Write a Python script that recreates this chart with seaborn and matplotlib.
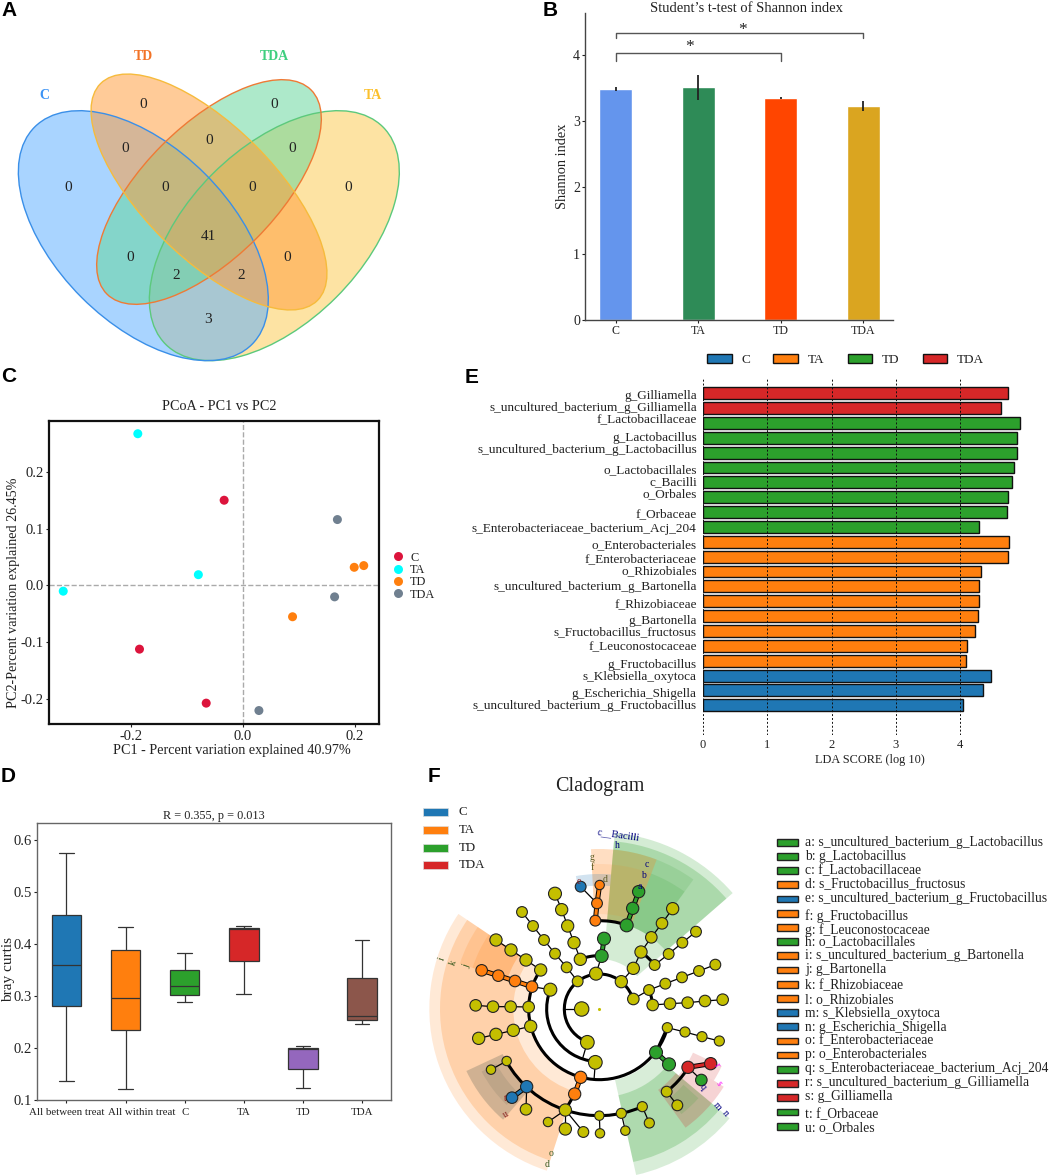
import numpy as np
import pandas as pd
import matplotlib
matplotlib.use('Agg')
import matplotlib.pyplot as plt
import seaborn as sns
from matplotlib.patches import Ellipse, Wedge, Arc, Rectangle, Patch
from matplotlib.transforms import ScaledTranslation

W, H = 1052, 1175
sns.set_theme(style='white')
plt.rcParams['font.family'] = ['Liberation Serif', 'DejaVu Serif']
plt.rcParams['text.color'] = '#222222'
plt.rcParams['axes.labelcolor'] = '#222222'
plt.rcParams['xtick.color'] = '#222222'
plt.rcParams['ytick.color'] = '#222222'
plt.rcParams['axes.unicode_minus'] = False

BLUE, ORANGE, GREEN, RED = '#1f77b4', '#ff7f0e', '#2ca02c', '#d62728'
OLIVE = '#c4bf00'
SHADE = '#6f6f60'

# B: Shannon index
shannon_groups = ['C', 'TA', 'TD', 'TDA']
shannon_mean = [3.49, 3.51, 3.35, 3.23]
shannon_err = [0.03, 0.19, 0.02, 0.08]
shannon_colors = ['#6495ed', '#2e8b57', '#ff4500', '#daa520']

# C: PCoA
pcoa_group = ['C', 'C', 'C', 'TA', 'TA', 'TA', 'TD', 'TD', 'TD', 'TDA', 'TDA', 'TDA']
pc1 = [-0.033, -0.184, -0.065, -0.187, -0.079, -0.320, 0.199, 0.216, 0.089, 0.169, 0.164, 0.029]
pc2 = [0.150, -0.112, -0.207, 0.267, 0.019, -0.010, 0.032, 0.035, -0.055, 0.116, -0.020, -0.220]
pcoa_colors = ['#dc143c', '#00ffff', '#ff7f0e', '#708090']

# D: bray curtis, five numbers per box (low, q1, median, q3, high)
box_names = ['All between treat', 'All within treat', 'C', 'TA', 'TD', 'TDA']
box_between = [0.137, 0.281, 0.360, 0.457, 0.576]
box_within = [0.122, 0.235, 0.296, 0.388, 0.434]
box_c = [0.289, 0.303, 0.319, 0.351, 0.383]
box_ta = [0.304, 0.367, 0.430, 0.432, 0.435]
box_td = [0.123, 0.160, 0.198, 0.201, 0.204]
box_tda = [0.247, 0.254, 0.262, 0.334, 0.408]
box_colors = ['#1f77b4', '#ff7f0e', '#2ca02c', '#d62728', '#9467bd', '#8c564b']

# E: LDA scores
taxa = ['g_Gilliamella', 's_uncultured_bacterium_g_Gilliamella', 'f_Lactobacillaceae',
        'g_Lactobacillus', 's_uncultured_bacterium_g_Lactobacillus', 'o_Lactobacillales',
        'c_Bacilli', 'o_Orbales', 'f_Orbaceae', 's_Enterobacteriaceae_bacterium_Acj_204',
        'o_Enterobacteriales', 'f_Enterobacteriaceae', 'o_Rhizobiales',
        's_uncultured_bacterium_g_Bartonella', 'f_Rhizobiaceae', 'g_Bartonella',
        's_Fructobacillus_fructosus', 'f_Leuconostocaceae', 'g_Fructobacillus',
        's_Klebsiella_oxytoca', 'g_Escherichia_Shigella', 's_uncultured_bacterium_g_Fructobacillus']
lda_score = [4.74, 4.63, 4.94, 4.89, 4.885, 4.84, 4.815, 4.745, 4.735, 4.295,
             4.76, 4.75, 4.32, 4.295, 4.29, 4.285, 4.23, 4.11, 4.10, 4.475, 4.35, 4.04]
lda_group = ['TDA'] * 2 + ['TD'] * 8 + ['TA'] * 9 + ['C'] * 3
# the labels in the figure do not sit quite level with their bars
label_nudge = [3, -6, -17, -3, -13, 3, -5, -14, 3, 2, 6, 2, -7, -2, 3, 9, -1, -1, 9, -1, 6, -3]

# F: cladogram nodes (x, y, diameter), 3x pixel units
clad_center = (598, 717)
yellow_nodes = [(545, 717, 40), (562, 817, 38), (586, 877, 38), (533, 634, 30), (588, 611, 36),
                (664, 635, 34), (541, 568, 34), (700, 687, 32), (700, 595, 34), (723, 546, 34),
                (754, 502, 32), (786, 460, 32), (818, 416, 34), (764, 585, 30), (806, 552, 30),
                (847, 518, 30), (888, 485, 30), (747, 660, 30), (796, 641, 30), (846, 622, 30),
                (897, 603, 30), (946, 584, 30), (758, 705, 32), (810, 701, 32), (863, 698, 32),
                (915, 693, 32), (968, 689, 32), (500, 592, 30), (465, 551, 30), (432, 510, 30),
                (399, 468, 30), (366, 426, 30), (522, 518, 34), (503, 468, 34), (485, 419, 34),
                (465, 371, 36), (451, 659, 36), (422, 600, 34), (378, 570, 34), (333, 540, 34),
                (288, 510, 34), (386, 711, 32), (332, 710, 32), (279, 710, 32), (227, 706, 32),
                (392, 769, 34), (340, 781, 34), (288, 793, 34), (236, 805, 34), (802, 773, 28),
                (855, 786, 28), (906, 800, 28), (958, 813, 28), (800, 965, 30), (832, 1006, 30),
                (496, 1020, 34), (444, 1056, 26), (496, 1077, 34), (550, 1086, 30), (598, 1037, 26),
                (600, 1090, 26), (664, 1030, 28), (676, 1082, 26), (727, 1010, 28), (748, 1059, 28),
                (320, 873, 26), (273, 899, 26), (378, 1018, 32)]
orange_nodes = [(542, 922, 34), (524, 972, 34), (396, 650, 32), (345, 633, 32), (295, 617, 32),
                (245, 601, 32), (586, 452, 30), (591, 400, 30), (599, 345, 26)]
green_nodes = [(605, 558, 36), (612, 506, 36), (680, 466, 36), (698, 415, 34), (716, 365, 34),
               (768, 847, 36), (807, 883, 36), (904, 930, 32)]
blue_nodes = [(542, 350, 30), (380, 950, 34), (336, 983, 32)]
red_nodes = [(864, 892, 34), (932, 881, 34)]

thin_links = [[(533, 634), (500, 592), (465, 551), (432, 510), (399, 468), (366, 426)],
              [(541, 568), (522, 518), (503, 468), (485, 419), (465, 371)],
              [(422, 600), (378, 570), (333, 540), (288, 510)],
              [(386, 711), (332, 710), (279, 710), (227, 706)],
              [(392, 769), (340, 781), (288, 793), (236, 805)],
              [(664, 635), (700, 595), (723, 546), (754, 502), (786, 460), (818, 416)],
              [(764, 585), (806, 552), (847, 518), (888, 485)],
              [(700, 687), (747, 660), (796, 641), (846, 622), (897, 603), (946, 584)],
              [(758, 705), (810, 701), (863, 698), (915, 693), (968, 689)],
              [(802, 773), (855, 786), (906, 800), (958, 813)],
              [(545, 717), (495, 717)], [(562, 817), (548, 865)], [(586, 877), (582, 930)],
              [(588, 611), (605, 558)], [(591, 400), (542, 350)], [(451, 659), (396, 650)],
              [(496, 1020), (444, 1056)], [(496, 1020), (496, 1077)], [(496, 1020), (550, 1086)],
              [(598, 1037), (600, 1090)], [(664, 1030), (676, 1082)], [(727, 1010), (748, 1059)],
              [(380, 950), (378, 1018)], [(320, 873), (273, 899)], [(800, 965), (832, 1006)],
              [(864, 892), (904, 930)]]
thick_links = [[(524, 972), (496, 1020)], [(768, 847), (802, 773)]]
orange_links = [[(542, 922), (524, 972)], [(396, 650), (345, 633), (295, 617), (245, 601)],
                [(586, 452), (591, 400), (599, 345)]]
green_links = [[(605, 558), (612, 506)], [(680, 466), (698, 415), (716, 365)], [(768, 847), (807, 883)]]
blue_links = [[(380, 950), (336, 983)]]
red_links = [[(864, 892), (932, 881)]]
# radius, start angle, end angle
clad_arcs = [(105, 16.4, 250), (158, 158.5, 265.7), (160, 87.5, 111), (212, 38.5, 53.8),
             (160, 4.3, 21), (212, 194.4, 344.7), (212, 146.4, 194.4), (320, 209.3, 293.8),
             (320, -50.8, -33.3), (265, 71.9, 92.6), (267, -38.5, -37.4)]
# color, outer radius, width, start, end, alpha
clad_wedges = [(ORANGE, 510, 300, 146, 252, 0.17), (ORANGE, 478, 220, 146, 252, 0.22),
               (ORANGE, 440, 150, 146, 162, 0.16), (ORANGE, 400, 110, 146, 162, 0.16),
               (SHADE, 440, 120, 205, 229, 0.32), (SHADE, 400, 50, 208, 226, 0.18),
               (GREEN, 530, 380, 41, 85, 0.20), (GREEN, 505, 240, 41, 85, 0.24),
               (GREEN, 480, 215, 54, 85, 0.14), (GREEN, 435, 170, 54, 69, 0.14),
               (ORANGE, 480, 215, 69, 93, 0.25), (ORANGE, 435, 150, 69, 93, 0.10),
               (BLUE, 405, 35, 85, 100, 0.20),
               (GREEN, 510, 292, -77.5, -40, 0.18), (GREEN, 470, 205, -77.5, -40, 0.24),
               (RED, 440, 140, -54, -40, 0.22), (GREEN, 400, 60, -52, -42, 0.15),
               (RED, 440, 130, -40, -32, 0.20), (RED, 405, 95, -32, -25, 0.18)]
clad_letters = [('c__Bacilli', 655, 195, 'navy', -8, 7.5), ('h', 652, 226, 'navy', 0, 7), ('c', 740, 283, 'navy', 0, 7),
                ('b', 731, 315, 'navy', 0, 7), ('a', 718, 350, 'navy', 0, 7), ('g', 577, 262, '#5a5a20', 0, 7),
                ('f', 578, 293, '#5a5a20', 0, 7), ('d', 616, 328, '#5a5a20', 0, 7), ('e', 535, 335, '#8b2020', 0, 7),
                ('i', 127, 567, '#3a5a20', 70, 7), ('k', 160, 577, '#3a5a20', 70, 7), ('j', 200, 590, '#3a5a20', 70, 7),
                ('o', 452, 1152, '#3a5a20', 0, 7), ('d', 442, 1183, '#3a5a20', 0, 7), ('t', 315, 985, '#8b2020', 0, 7),
                ('u', 318, 1035, '#8b2020', 30, 7), ('s', 957, 940, 'magenta', -60, 7), ('r', 950, 885, 'magenta', -60, 7),
                ('n', 977, 1030, 'navy', -50, 7), ('m', 953, 1010, 'navy', -50, 7), ('q', 908, 950, 'navy', -50, 7)]

legend_rows = ['a: s_uncultured_bacterium_g_Lactobacillus', 'b: g_Lactobacillus', 'c: f_Lactobacillaceae',
               'd: s_Fructobacillus_fructosus', 'e: s_uncultured_bacterium_g_Fructobacillus',
               'f: g_Fructobacillus', 'g: f_Leuconostocaceae', 'h: o_Lactobacillales',
               'i: s_uncultured_bacterium_g_Bartonella', 'j: g_Bartonella', 'k: f_Rhizobiaceae',
               'l: o_Rhizobiales', 'm: s_Klebsiella_oxytoca', 'n: g_Escherichia_Shigella',
               'o: f_Enterobacteriaceae', 'p: o_Enterobacteriales',
               'q: s_Enterobacteriaceae_bacterium_Acj_204', 'r: s_uncultured_bacterium_g_Gilliamella',
               's: g_Gilliamella', 't: f_Orbaceae', 'u: o_Orbales']
legend_row_colors = [GREEN, GREEN, GREEN, ORANGE, BLUE, ORANGE, ORANGE, GREEN, ORANGE, ORANGE, ORANGE,
                     ORANGE, BLUE, BLUE, ORANGE, ORANGE, GREEN, RED, RED, GREEN, GREEN]
legend_patch_y = [52, 94, 136, 178, 222, 265, 308, 350, 392, 435, 478, 520, 563, 605, 648, 690, 733, 775, 817, 861, 904]
legend_text_y = [53, 95, 137, 178, 220, 273, 316, 350, 391, 433, 481, 523, 565, 606, 648, 689, 731, 772, 814, 868, 908]

# A: venn, counts at their regions (3x pixel units)
venn_counts = [(430, 315, 0), (823, 315, 0), (627, 420, 0), (377, 445, 0), (876, 445, 0), (206, 563, 0),
               (495, 563, 0), (757, 563, 0), (1046, 563, 0), (625, 708, 41), (390, 773, 0), (863, 773, 0),
               (528, 827, 2), (725, 827, 2), (625, 958, 3)]


def px_axes(x, y, w, h):
    return fig.add_axes([x / W, 1 - (y + h) / H, w / W, h / H])


def zoom_axes(x, y, w, h):
    # axes measured in 3x pixels, y running downward
    ax = px_axes(x, y, w, h)
    ax.set_xlim(0, w * 3)
    ax.set_ylim(h * 3, 0)
    ax.axis('off')
    return ax


fig = plt.figure(figsize=(W / 100, H / 100), dpi=100)

# ---- A
ax = zoom_axes(0, 0, 520, 370)
# drawn back to front: TA, C, TDA, TD
ells = [((823, 707), 461, 262, -45, '#fdcb50', '#5cc97c'),
        ((430, 707), 461, 262, 45, '#5aaeff', '#3a8fe8'),
        ((627, 576), 433, 199, -45, '#62d69a', '#ef7a35'),
        ((627, 576), 460, 197, 45, '#ff9c3a', '#f6bb3c')]
for xy, a, b, ang, fc, ec in ells:
    ax.add_patch(Ellipse(xy, 2 * a, 2 * b, angle=ang, fc=fc, ec='none', alpha=0.52))
for xy, a, b, ang, fc, ec in ells:
    ax.add_patch(Ellipse(xy, 2 * a, 2 * b, angle=ang, fc='none', ec=ec, lw=1.0))
for x, y, n in venn_counts:
    ax.text(x, y, str(n), ha='center', va='center', fontsize=11, color='#222222')
for name, x, y, c in [('C', 133, 286, '#3b93f5'), ('TD', 430, 170, '#f27327'),
                      ('TDA', 823, 170, '#3fcf7f'), ('TA', 1120, 286, '#fbc02d')]:
    ax.text(x, y, name, ha='center', va='center', fontsize=10, fontweight='bold', color=c)

# ---- B
ax = px_axes(585, 13, 308, 307)
sns.barplot(x=shannon_groups, y=shannon_mean, hue=shannon_groups, palette=shannon_colors, width=0.4,
            saturation=1, legend=False, ax=ax)
ax.errorbar(range(4), shannon_mean, yerr=shannon_err, fmt='none', ecolor='#222222', elinewidth=1.3)
ax.set_xlim(-0.371, 3.36)
ax.set_ylim(0, 4.63)
ax.set_yticks([0, 1, 2, 3, 4])
ax.tick_params(axis='y', labelsize=10, length=2, width=0.8, left=True, pad=1.5)
ax.tick_params(axis='x', labelsize=8.6, length=2, width=0.8, bottom=True, pad=1.5)
ax.set_ylabel('Shannon index', fontsize=10.4)
ax.yaxis.set_label_coords((569 - 585) / 308, 0.5)
sns.despine(ax=ax)
for s in ['left', 'bottom']:
    ax.spines[s].set_color('#444444')
    ax.spines[s].set_linewidth(1.0)
for x0, x1, y, drop in [(0, 3, 4.33, 0.07), (0, 2, 4.02, 0.11)]:
    ax.plot([x0, x0, x1, x1], [y - drop, y, y, y - drop], color='#555555', lw=1.0)
ax.text(1.54, 4.25, '*', ha='center', va='bottom', fontsize=12.5)
ax.text(0.89, 4.0, '*', ha='center', va='bottom', fontsize=12.5)
fig.text(747 / W, 1 - 8 / H, 'Student\u2019s t-test of Shannon index', ha='center', va='center', fontsize=10.5)

# ---- C
ax = px_axes(49, 421, 330, 303)
pcoa = pd.DataFrame({'pc1': pc1, 'pc2': pc2, 'group': pcoa_group})
sns.scatterplot(data=pcoa, x='pc1', y='pc2', hue='group', palette=pcoa_colors, s=42, linewidth=0, ax=ax, zorder=3)
ax.axhline(0, color='#aaaaaa', ls='--', lw=1)
ax.axvline(0, color='#aaaaaa', ls='--', lw=1)
ax.set_xlim(-0.3454, 0.2432)
ax.set_ylim(-0.2437, 0.2894)
ax.set_xticks([-0.2, 0.0, 0.2])
ax.set_yticks([-0.2, -0.1, 0.0, 0.1, 0.2])
ax.tick_params(axis='both', labelsize=10.5, length=2, width=0.8, bottom=True, left=True, pad=2)
ax.set_xlabel('PC1 - Percent variation explained 40.97%', fontsize=10.2)
ax.xaxis.set_label_coords(0.555, -0.066)
ax.set_ylabel('PC2-Percent variation explained 26.45%', fontsize=10.2)
ax.yaxis.set_label_coords(-0.088, 0.432)
ax.set_title('PCoA - PC1 vs PC2', fontsize=10.2, pad=8, x=0.515)
for s in ax.spines.values():
    s.set_color('#111111')
    s.set_linewidth(1.6)
ax.legend(loc='center left', bbox_to_anchor=(1.039, 0.488), frameon=False, fontsize=8.8, labelspacing=0.03,
          handlelength=1, handletextpad=0.5, borderpad=0, borderaxespad=0)

# ---- D
ax = px_axes(37, 823, 354, 277)
box_values = [box_between, box_within, box_c, box_ta, box_td, box_tda]
bray = pd.DataFrame({'group': np.repeat(box_names, 5), 'bray': np.concatenate(box_values)})
sns.boxplot(data=bray, x='group', y='bray', hue='group', palette=box_colors, width=0.5, whis=(0, 100),
            saturation=1, linecolor='#333333', linewidth=0.9, legend=False, ax=ax)
ax.set_xlim(-0.497, 5.49)
ax.set_ylim(0.1, 0.6334)
ax.set_yticks([0.1, 0.2, 0.3, 0.4, 0.5, 0.6])
ax.tick_params(axis='y', labelsize=10.5, length=2, width=0.8, left=True, pad=2)
ax.tick_params(axis='x', labelsize=7.8, length=2, width=0.8, bottom=True, pad=4)
ax.set_xlabel('')
ax.set_ylabel('bray curtis', fontsize=11)
ax.yaxis.set_label_coords((15 - 37) / 354, 0.47)
ax.set_title('R = 0.355, p = 0.013', fontsize=8.8, pad=3)
for s in ax.spines.values():
    s.set_color('#666666')
    s.set_linewidth(1.0)
xlabels = ax.get_xticklabels()
xlabels[1].set_transform(xlabels[1].get_transform() + ScaledTranslation(0.16, 0, fig.dpi_scale_trans))

# ---- E
ax = px_axes(703, 378, 320, 357)
lda = pd.DataFrame({'taxon': taxa, 'score': lda_score, 'group': lda_group})
sns.barplot(data=lda, x='score', y='taxon', hue='group', hue_order=['C', 'TA', 'TD', 'TDA'],
            palette=[BLUE, ORANGE, GREEN, RED], dodge=False, width=0.8, saturation=1,
            edgecolor='#111111', linewidth=1.0, legend=False, ax=ax)
for v in range(5):
    ax.axvline(v, color='#111111', ls=(0, (2, 2)), lw=0.7, zorder=5)
ax.set_xlim(0, 4.98)
ax.set_ylim(23.0, -1.023)
ax.set_yticks(np.arange(22) + np.array(label_nudge) / 45.95)
ax.set_yticklabels(taxa)
ax.set_xticks(range(5))
ax.tick_params(axis='y', labelsize=9.5, length=0, pad=4.5)
ax.tick_params(axis='x', labelsize=9, length=0, pad=3)
ax.set_xlabel('LDA SCORE (log 10)', fontsize=8.8, labelpad=2, x=0.522)
ax.set_ylabel('')
sns.despine(ax=ax, left=True, bottom=True)
handles = [Patch(fc=c, ec='#111111', label=n) for c, n in zip([BLUE, ORANGE, GREEN, RED], ['C', 'TA', 'TD', 'TDA'])]
ax.legend(handles=handles, loc='center left', bbox_to_anchor=(4.0 / 320, 1.05), ncol=4, frameon=False, fontsize=9.5,
          handlelength=1.86, handleheight=0.7, handletextpad=0.76, columnspacing=1.74, borderpad=0, borderaxespad=0)

# ---- F
ax = zoom_axes(400, 770, 360, 405)
for col, r, width, t1, t2, al in clad_wedges:
    # y runs downward here, so angles turn the other way
    ax.add_patch(Wedge(clad_center, r, -t2, -t1, width=width, fc=col, ec='none', alpha=al))
for r, t1, t2 in clad_arcs:
    ax.add_patch(Arc(clad_center, 2 * r, 2 * r, theta1=-t2, theta2=-t1, color='black', lw=2.2))
for chain in thin_links:
    xs, ys = zip(*chain)
    ax.plot(xs, ys, color='black', lw=0.9, zorder=2)
for chain in thick_links:
    xs, ys = zip(*chain)
    ax.plot(xs, ys, color='black', lw=2.2, zorder=2)
for links, col in [(orange_links, ORANGE), (green_links, GREEN), (blue_links, BLUE), (red_links, RED)]:
    for chain in links:
        xs, ys = zip(*chain)
        ax.plot(xs, ys, color='black', lw=3.6, zorder=2, solid_capstyle='butt')
        ax.plot(xs, ys, color=col, lw=2.2, zorder=2, solid_capstyle='butt')
node_sets = [(yellow_nodes, OLIVE), (orange_nodes, ORANGE), (green_nodes, GREEN), (blue_nodes, BLUE), (red_nodes, RED)]
for nodes, col in node_sets:
    xs, ys, ds = zip(*nodes)
    # 3 units per pixel, 100 dpi
    sizes = (np.array(ds) * 1.08 / 3 * 0.72) ** 2
    sns.scatterplot(x=list(xs), y=list(ys), color=col, s=sizes, edgecolor='#222222', linewidth=0.8, ax=ax, zorder=4)
sns.scatterplot(x=[clad_center[0]], y=[clad_center[1]], color=OLIVE, s=5, linewidth=0, ax=ax, zorder=4)
for s, x, y, c, rot, fs in clad_letters:
    ax.text(x, y, s, ha='center', va='center', fontsize=fs, color=c, rotation=rot, zorder=6)
ax.set_xlim(0, 1080)
ax.set_ylim(1215, 0)
ax.axis('off')
ax.text(598, 48, 'Cladogram', ha='center', va='center', fontsize=14.5)
for name, col, y in zip(['C', 'TA', 'TD', 'TDA'], [BLUE, ORANGE, GREEN, RED], [127, 180, 233, 285]):
    ax.add_patch(Rectangle((70, y - 12), 73, 24, fc=col, ec='#dddddd', lw=0.5))
    ax.text(175, y, name, ha='left', va='center', fontsize=9.3)

ax = zoom_axes(760, 825, 292, 315)
for name, col, py, ty in zip(legend_rows, legend_row_colors, legend_patch_y, legend_text_y):
    ax.add_patch(Rectangle((52, py - 10), 61, 20, fc=col, ec='#222222', lw=1.0))
    ax.text(135, ty, name, ha='left', va='center', fontsize=9.75)

# ---- panel letters
for letter, x, y in [('A', 1, 11), ('B', 543, 11), ('C', 1, 377), ('D', 1, 776), ('E', 465, 378), ('F', 428, 777)]:
    fig.text(x / W, 1 - y / H, letter, ha='left', va='center', fontsize=15, fontweight='bold',
             family='Liberation Sans', color='black')

fig.savefig('out.png', dpi=100)
